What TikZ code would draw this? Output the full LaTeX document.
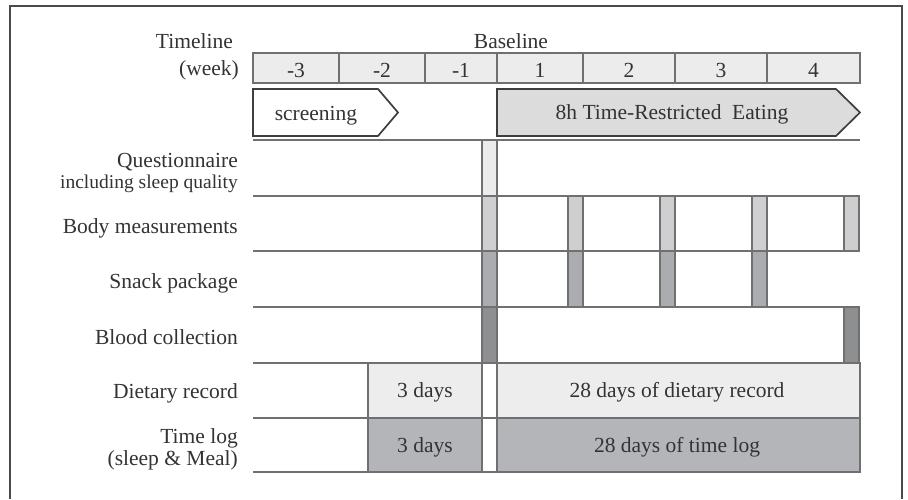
\documentclass[tikz,border=0pt]{standalone}
\usepackage{fontspec}
\setmainfont{Liberation Serif}
\definecolor{linegray}{HTML}{707070}
\definecolor{framegray}{HTML}{4A4A4A}
\definecolor{arrowgray}{HTML}{3E3E3E}
\definecolor{cellfill}{HTML}{ECECEC}
\definecolor{trefill}{HTML}{DCDCDC}
\definecolor{qfill}{HTML}{EBEBEB}
\definecolor{bodyfill}{HTML}{CFCFD1}
\definecolor{snackfill}{HTML}{ABACAF}
\definecolor{bloodfill}{HTML}{8E8F91}
\definecolor{dietfill}{HTML}{EDEDED}
\definecolor{logfill}{HTML}{B4B5B8}
\definecolor{textgray}{HTML}{333333}
\begin{document}
\begin{tikzpicture}[x=1pt,y=-1pt,
  ln/.style={draw=linegray,line width=1.5pt},
  cell/.style={draw=linegray,line width=1.5pt,fill=cellfill},
  bar/.style={draw=linegray,line width=1.5pt},
  phase/.style={draw=arrowgray,line width=1.7pt,line join=miter},
  txt/.style={anchor=base,text=textgray,inner sep=0pt,font=\fontsize{21.5}{24}\selectfont},
  lab/.style={anchor=base east,text=textgray,inner sep=0pt,font=\fontsize{21.5}{24}\selectfont},
  sublab/.style={anchor=base east,text=textgray,inner sep=0pt,font=\fontsize{19.5}{22}\selectfont}]
\useasboundingbox (0,0) rectangle (908,499);
% frame
\draw[framegray,line width=1.6pt] (10,499) -- (10,6) -- (902,6) -- (902,499);

% timeline cells
\foreach \a/\b/\t [count=\i] in {253/339/-3,339/425/-2,425/497/-1,497/583/1,583/675/2,675/767/3,767/860/4}{
  \draw[cell] (\a,53) rectangle (\b,83);
  \node[txt] (wk\i) at ({(\a+\b)/2},77) {\t};
}

% phase arrows
\draw[phase,fill=white] (253,89) -- (378,89) -- (398,112.5) -- (378,136) -- (253,136) -- cycle;
\node[txt] (scr) at (316,120) {screening};
\draw[phase,fill=trefill] (497,89) -- (836,89) -- (860,112.5) -- (836,136) -- (497,136) -- cycle;
\node[txt] (tre) at (672,119) {8h Time-Restricted\ \ Eating};

% row lines
\foreach \y in {140,196,251,307,363,418,472}
  \draw[ln] (253,\y) -- (860,\y);

% questionnaire
\draw[bar,fill=qfill] (482,140) rectangle (497,196);
% body measurements
\foreach \x in {482,568,660,752,844}
  \draw[bar,fill=bodyfill] (\x,196) rectangle (\x+15,251);
% snack package
\foreach \x in {482,568,660,752}
  \draw[bar,fill=snackfill] (\x,251) rectangle (\x+15,307);
% blood collection
\foreach \x in {482,844}
  \draw[bar,fill=bloodfill] (\x,307) rectangle (\x+15,363);
% dietary record
\draw[bar,fill=dietfill] (368,363) rectangle (482,418);
\draw[bar,fill=dietfill] (497,363) rectangle (860,418);
\draw[bar,fill=white] (482,363) rectangle (497,418);
% time log
\draw[bar,fill=logfill] (368,418) rectangle (482,472);
\draw[bar,fill=logfill] (497,418) rectangle (860,472);
\draw[bar,fill=white] (482,418) rectangle (497,472);

\node[txt] (d3) at (425,397) {3 days};
\node[txt] (d28) at (677,397) {28 days of dietary record};
\node[txt] (l3) at (425,452) {3 days};
\node[txt] (l28) at (677,452) {28 days of time log};

% labels
\node[lab] (tl) at (233,48) {Timeline};
\node[lab] (wkl) at (239,75) {(week)};
\node[txt] (base) at (511,48) {Baseline};
\node[lab] (q) at (238,167) {Questionnaire};
\node[sublab] (q2) at (238,188) {including sleep quality};
\node[lab] (bm) at (238,233) {Body measurements};
\node[lab] (sp) at (238,288) {Snack package};
\node[lab] (bc) at (238,344) {Blood collection};
\node[lab] (dr) at (238,398) {Dietary record};
\node[lab] (tlog) at (238,443) {Time log};
\node[lab] (tlog2) at (238,465) {(sleep \& Meal)};
\end{tikzpicture}
\end{document}
